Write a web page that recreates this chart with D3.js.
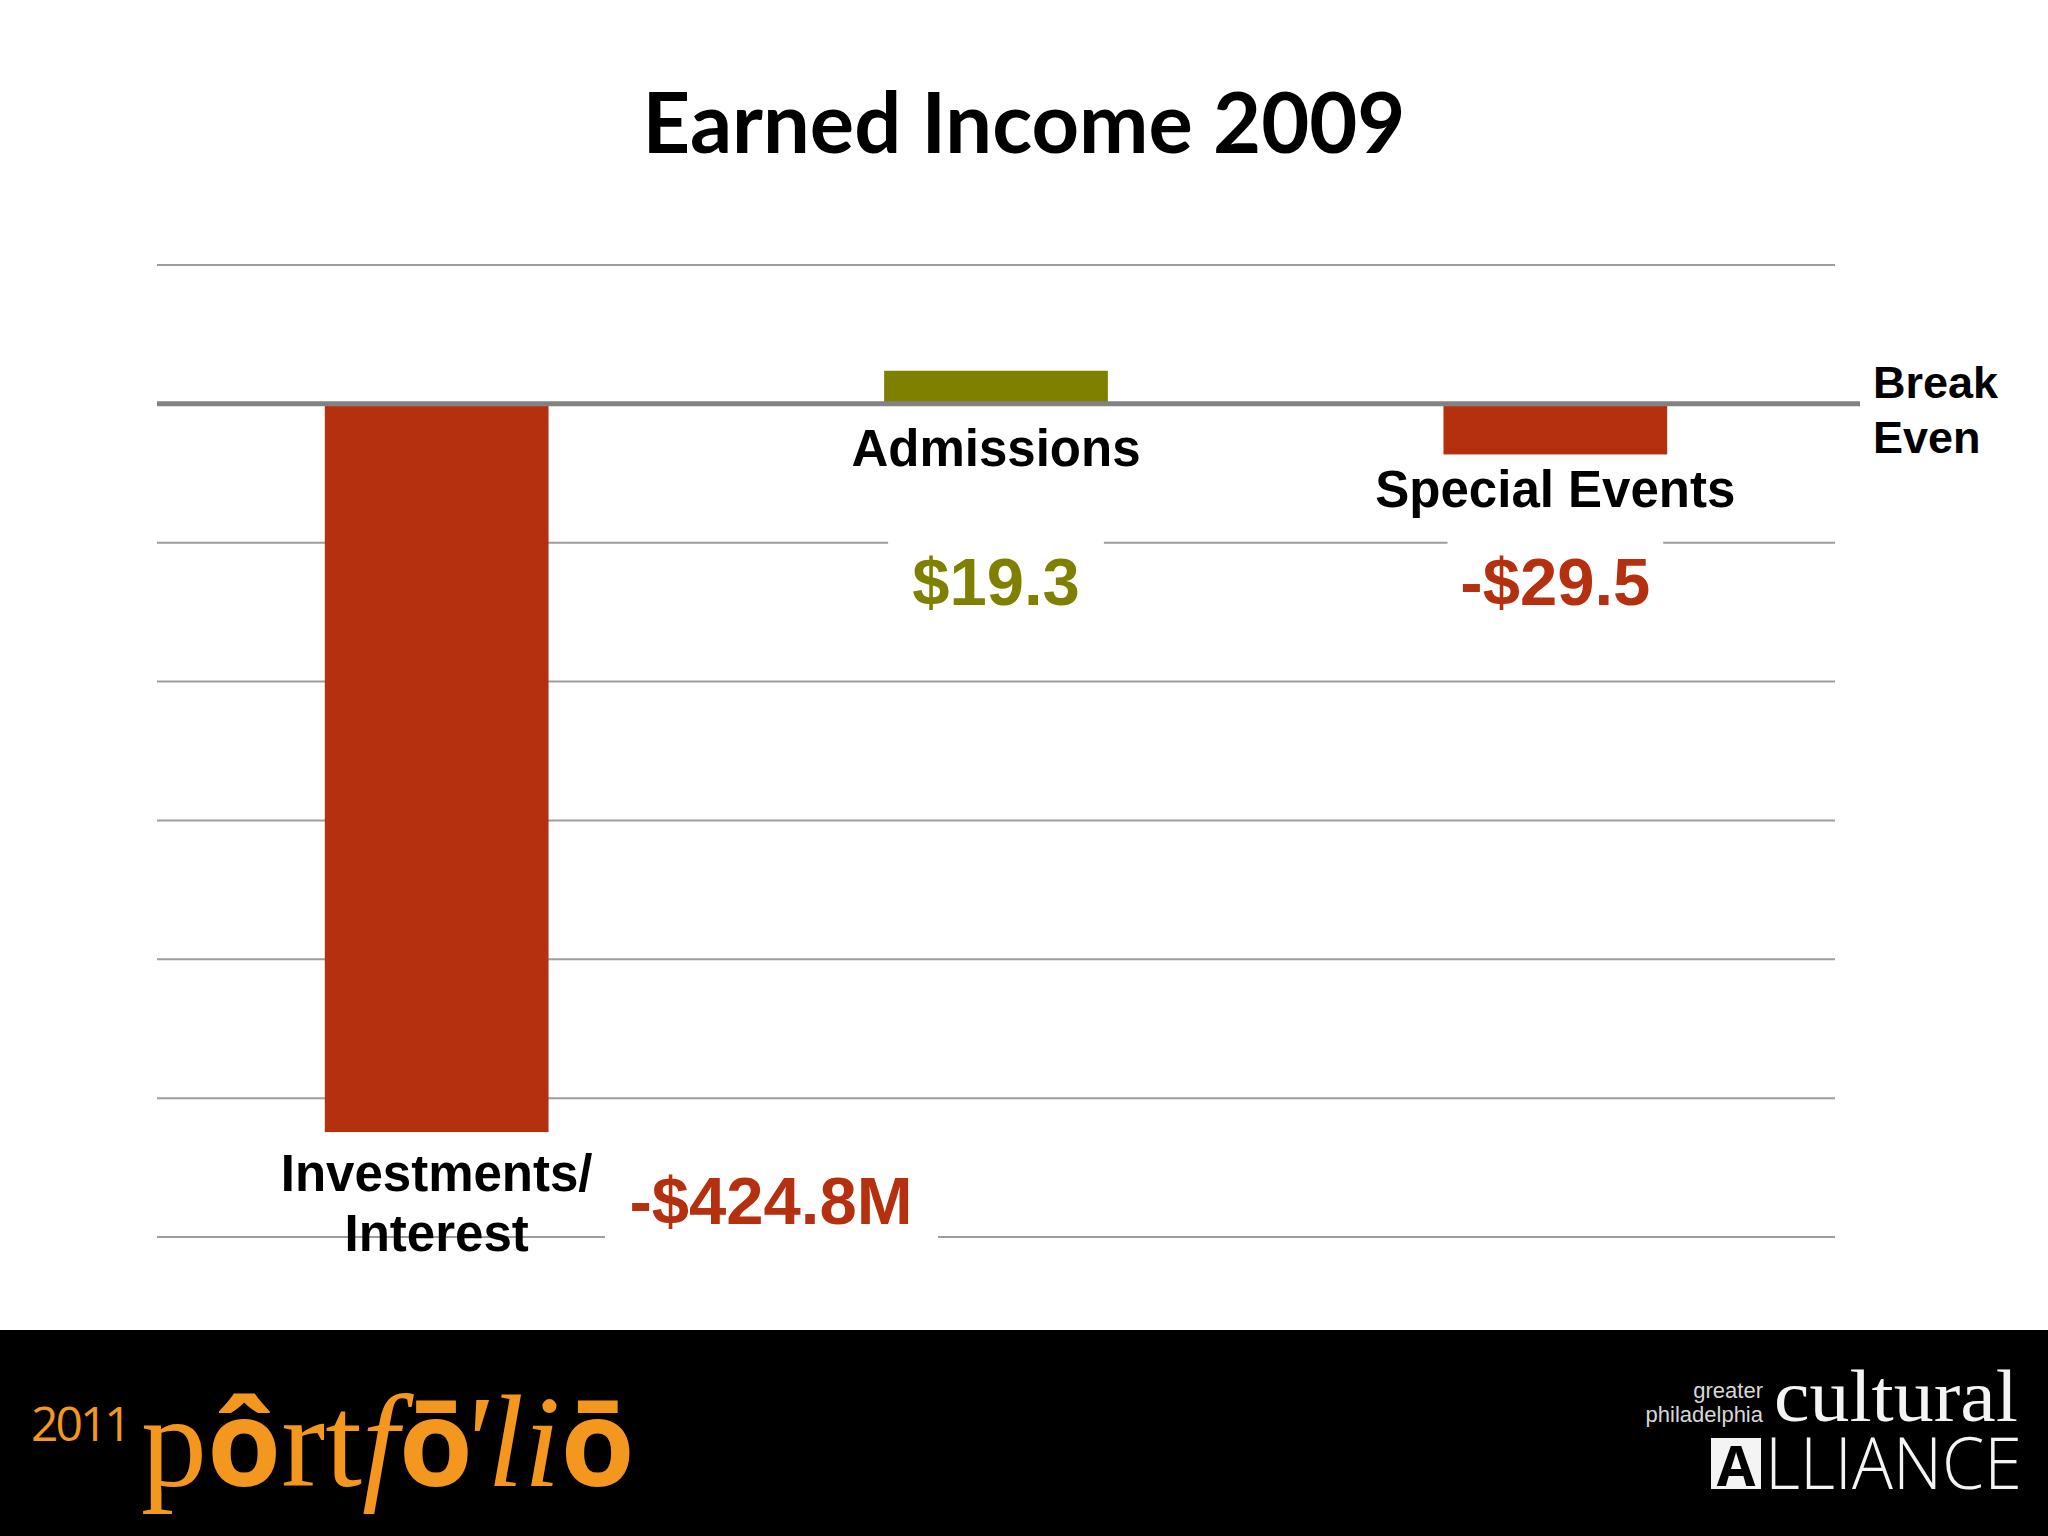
<!DOCTYPE html>
<html>
<head>
<meta charset="utf-8">
<script src="https://cdn.jsdelivr.net/npm/d3@7/dist/d3.min.js"></script>
<style>
html,body{margin:0;padding:0;background:#fff;}
svg{display:block;}
</style>
</head>
<body>
<svg id="chart" width="2048" height="1536"></svg>
<script>
// ---- data ----
const title = "Earned Income 2009";
const categories = ["Investments/ Interest", "Admissions", "Special Events"];
const categoryLines = [["Investments/", "Interest"], ["Admissions"], ["Special Events"]];
const values = [-424.8, 19.3, -29.5];
const valueLabels = ["-$424.8M", "$19.3", "-$29.5"];
const gridValues = [81, 0, -81, -162, -243, -324, -405, -486];
const refLabel = ["Break", "Even"];

// ---- setup ----
const svg = d3.select("#chart");
const W = 2048, H = 1536;
const RED = "#b5300e", GREEN = "#7f8000";
const ARIAL = "'Liberation Sans', Arial, sans-serif";

svg.append("rect").attr("width", W).attr("height", H).attr("fill", "#fff");

const y = d3.scaleLinear().domain([81, -486]).range([265, 1237]);
const x = d3.scaleBand().domain(categories).range([157, 1835]).paddingInner(0.6).paddingOuter(0.3);

// title
svg.append("text")
  .attr("x", 1024).attr("y", 153)
  .attr("text-anchor", "middle")
  .attr("font-family", "Lato, 'Open Sans', sans-serif")
  .attr("font-weight", 700)
  .attr("font-size", 84)
  .attr("textLength", 763).attr("lengthAdjust", "spacingAndGlyphs")
  .attr("fill", "#000")
  .text(title);

// gridlines (excluding zero)
svg.append("g").selectAll("line")
  .data(gridValues.filter(v => v !== 0))
  .join("line")
  .attr("x1", 157).attr("x2", 1835)
  .attr("y1", d => y(d)).attr("y2", d => y(d))
  .attr("stroke", "#9d9d9d").attr("stroke-width", 2);

// label background boxes (interrupt gridlines)
const boxes = svg.append("g");
[1, 2].forEach(i => {
  boxes.append("rect")
    .attr("x", x(categories[i]) + 4).attr("y", y(0) + 50)
    .attr("width", x.bandwidth() - 8).attr("height", 180)
    .attr("fill", "#fff");
});
boxes.append("rect").attr("x", 605).attr("y", 1170).attr("width", 333).attr("height", 100).attr("fill", "#fff");

// bars
svg.append("g").selectAll("rect")
  .data(values)
  .join("rect")
  .attr("x", (d, i) => x(categories[i]))
  .attr("width", x.bandwidth())
  .attr("y", d => y(Math.max(0, d)))
  .attr("height", d => Math.abs(y(d) - y(0)))
  .attr("fill", d => d >= 0 ? GREEN : RED);

// zero / break-even line with shadow
const defs = svg.append("defs");
defs.append("filter").attr("id", "blur").append("feGaussianBlur").attr("stdDeviation", 2);
svg.append("line")
  .attr("x1", 160).attr("x2", 1860)
  .attr("y1", y(0) + 5).attr("y2", y(0) + 5)
  .attr("stroke", "#bdbdbd").attr("stroke-width", 5)
  .attr("filter", "url(#blur)");
svg.append("line")
  .attr("x1", 157).attr("x2", 1860)
  .attr("y1", y(0)).attr("y2", y(0))
  .attr("stroke", "#828282").attr("stroke-width", 5);

// category labels
const catPos = [
  {cx: x(categories[0]) + x.bandwidth() / 2, y: 1191},
  {cx: x(categories[1]) + x.bandwidth() / 2, y: 466},
  {cx: x(categories[2]) + x.bandwidth() / 2, y: 507}
];
categoryLines.forEach((lines, i) => {
  lines.forEach((t, j) => {
    svg.append("text")
      .attr("x", catPos[i].cx).attr("y", catPos[i].y + j * 60)
      .attr("text-anchor", "middle")
      .attr("font-family", ARIAL).attr("font-weight", 700)
      .attr("font-size", 51).attr("fill", "#000")
      .text(t);
  });
});

// value labels
const valPos = [
  {cx: 771, y: 1224},
  {cx: x(categories[1]) + x.bandwidth() / 2, y: 605},
  {cx: x(categories[2]) + x.bandwidth() / 2, y: 605}
];
valueLabels.forEach((t, i) => {
  svg.append("text")
    .attr("x", valPos[i].cx).attr("y", valPos[i].y)
    .attr("text-anchor", "middle")
    .attr("font-family", ARIAL).attr("font-weight", 700)
    .attr("font-size", 67)
    .attr("fill", values[i] >= 0 ? GREEN : RED)
    .text(t);
});

// Break Even
refLabel.forEach((t, j) => {
  svg.append("text")
    .attr("x", 1873).attr("y", 398 + j * 55)
    .attr("font-family", ARIAL).attr("font-weight", 700)
    .attr("font-size", 45).attr("fill", "#000")
    .text(t);
});

// ---- footer ----
svg.append("rect").attr("x", 0).attr("y", 1330).attr("width", W).attr("height", H - 1330).attr("fill", "#000");
const ORANGE = "#f4971f";
svg.append("text")
  .attr("x", 31).attr("y", 1441)
  .attr("font-family", "'Open Sans', sans-serif").attr("font-size", 48)
  .attr("fill", ORANGE).attr("letter-spacing", -3)
  .text("2011");
const pf = svg.append("text")
  .attr("x", 141).attr("y", 1486)
  .attr("font-size", 132).attr("fill", ORANGE)
  .attr("font-family", "'Liberation Serif', serif");
pf.append("tspan").text("p");
pf.append("tspan").attr("font-family", "'Open Sans', sans-serif").attr("font-weight", 700).attr("font-size", 120).text("ô");
pf.append("tspan").text("rt");
pf.append("tspan").attr("font-style", "italic").text("f");
pf.append("tspan").attr("font-family", "'Open Sans', sans-serif").attr("font-weight", 700).attr("font-size", 120).text("ō");
pf.append("tspan").attr("font-style", "italic").attr("dx", -14).text("'li");
pf.append("tspan").attr("font-family", "'Open Sans', sans-serif").attr("font-weight", 700).attr("font-size", 120).text("ō");

svg.append("text")
  .attr("x", 1763).attr("y", 1398).attr("text-anchor", "end")
  .attr("font-family", ARIAL).attr("font-size", 22).attr("fill", "#d8d8d8")
  .text("greater");
svg.append("text")
  .attr("x", 1763).attr("y", 1422).attr("text-anchor", "end")
  .attr("font-family", ARIAL).attr("font-size", 22).attr("fill", "#d8d8d8")
  .text("philadelphia");
svg.append("text")
  .attr("x", 1774).attr("y", 1421)
  .attr("font-family", "'Liberation Serif', serif").attr("font-size", 74)
  .attr("textLength", 244).attr("lengthAdjust", "spacingAndGlyphs")
  .attr("fill", "#f4f4f4")
  .text("cultural");
svg.append("rect").attr("x", 1711).attr("y", 1438).attr("width", 50).attr("height", 51).attr("fill", "#f4f4f4");
svg.append("text")
  .attr("x", 1736).attr("y", 1486)
  .attr("text-anchor", "middle")
  .attr("font-family", "'Open Sans', sans-serif").attr("font-weight", 700).attr("font-size", 56)
  .attr("fill", "#000")
  .text("A");
svg.append("text")
  .attr("x", 1765).attr("y", 1489)
  .attr("font-family", "'Open Sans', sans-serif").attr("font-weight", 300).attr("font-size", 71)
  .attr("textLength", 257).attr("lengthAdjust", "spacingAndGlyphs")
  .attr("fill", "#f4f4f4")
  .text("LLIANCE");
</script>
</body>
</html>
